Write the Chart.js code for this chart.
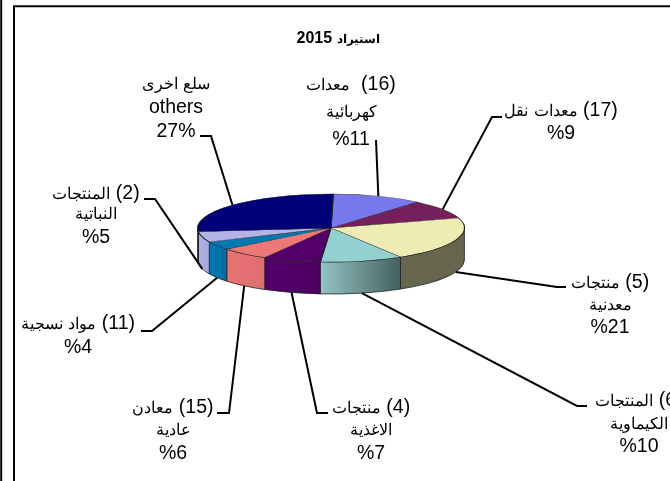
<!DOCTYPE html>
<html lang="ar">
<head>
    <meta charset="UTF-8">
    <title>استيراد 2015</title>
    <script src="https://cdn.jsdelivr.net/npm/chart.js"></script>
    <style>
        /* Arabic glyphs run wide in DejaVu, so only that range is scaled down */
        @font-face {
            font-family: "ArabicText";
            src: local("DejaVu Sans");
            unicode-range: U+0600-06FF;
            size-adjust: 80%;
        }
        @font-face {
            font-family: "ArabicTitle";
            src: local("DejaVu Sans Bold");
            font-weight: bold;
            unicode-range: U+0600-06FF;
            size-adjust: 78%;
        }
        html, body { margin: 0; padding: 0; background: #fff; overflow: hidden; }
        #wrap { width: 670px; height: 481px; }
    </style>
</head>
<body>
<div id="wrap"><canvas id="chart" width="670" height="481"></canvas></div>

<script>
    const chartTitle = "استيراد 2015";
    // text of each label, line by line, in slice order
    const categories = [
        ["(16)  معدات", "كهربائية"],
        ["(17) معدات نقل"],
        ["(5) منتجات", "معدنية"],
        ["(6) المنتجات", "الكيماوية"],
        ["(4) منتجات", "الاغذية"],
        ["(15) معادن", "عادية"],
        ["(11) مواد نسجية"],
        ["(2) المنتجات", "النباتية"],
        ["سلع اخرى", "others"]
    ];
    const shares = [11, 9, 21, 10, 7, 6, 4, 5, 27];
    const shareText = ["%11", "%9", "%21", "%10", "%7", "%6", "%4", "%5", "27%"];

    const topColors = ["#7777ee", "#751f5c", "#eeecb4", "#93d0d0", "#54006b", "#ee7777", "#0078b0", "#b3b3e8", "#000078"];
    const wallColorsLeft = ["#5a5ab0", "#561645", "#66664f", "#93c4c4", "#54006b", "#e87474", "#0078b0", "#b0b0e4", "#000060"];
    const wallColorsRight = ["#5a5ab0", "#561645", "#66664f", "#456060", "#4c0060", "#e06e6e", "#006fa4", "#a6a6da", "#000060"];

    // where the pie sits on the page
    const CX = 331, CY = 228, RY = 34, DEPTH = 32;

    // layout of the labels: centre x, baseline of each line, then elbow of the leader
    const labelX = [351, 561, 610, 639, 371, 173, 78, 96, 176];
    const labelY = [
        [90, 117, 145],
        [116, 139],
        [288, 310, 333],
        [406, 429, 452],
        [413, 435, 459],
        [413, 435, 459],
        [329, 353],
        [199, 219, 243],
        [89, 113, 137]
    ];
    const elbows = [
        [[376, 140]],
        [[492, 117], [502, 117]],
        [[557, 287], [566, 287]],
        [[577, 406], [587, 406]],
        [[317, 413], [328, 413]],
        [[229, 413], [217, 413]],
        [[152, 331], [141, 331]],
        [[155, 199], [144, 199]],
        [[211, 136], [200, 136]]
    ];
    const labelFont = '19.5px "ArabicText", "Liberation Sans", sans-serif';
    const titleFamily = '"ArabicTitle", "Liberation Sans", sans-serif';

    // pie is laid out as a circle, then squashed on to the tilted plane
    const tiltPlugin = {
        id: "tilt",
        beforeDraw(chart) {
            const ctx = chart.ctx;
            ctx.save();
            ctx.strokeStyle = "#000";
            ctx.lineWidth = 2;
            ctx.beginPath();
            ctx.moveTo(1.2, 0); ctx.lineTo(1.2, 481);
            ctx.moveTo(670, 6.3); ctx.lineTo(14, 6.3); ctx.lineTo(14, 481);
            ctx.stroke();
            ctx.restore();
        },
        beforeDatasetsDraw(chart) {
            const ctx = chart.ctx;
            const arcs = chart.getDatasetMeta(0).data;
            const rx = arcs[0].outerRadius;

            // side wall, only the front half of the rim shows
            arcs.forEach((arc, i) => {
                const a0 = Math.max(arc.startAngle, 0);
                const a1 = Math.min(arc.endAngle, Math.PI);
                if (a1 <= a0) return;
                const x0 = CX + rx * Math.cos(a0);
                const x1 = CX + rx * Math.cos(a1);
                const grad = ctx.createLinearGradient(x1, 0, x0, 0);
                grad.addColorStop(0, wallColorsLeft[i]);
                grad.addColorStop(1, wallColorsRight[i]);
                ctx.beginPath();
                ctx.ellipse(CX, CY, rx, RY, 0, a0, a1);
                ctx.ellipse(CX, CY + DEPTH, rx, RY, 0, a1, a0, true);
                ctx.closePath();
                ctx.fillStyle = grad;
                ctx.fill();
                ctx.strokeStyle = "#222";
                ctx.lineWidth = 0.8;
                ctx.stroke();
            });

            ctx.save();
            ctx.translate(CX, CY);
            ctx.scale(1, RY / rx);
            ctx.translate(-arcs[0].x, -arcs[0].y);
        },
        afterDatasetsDraw(chart) {
            const ctx = chart.ctx;
            ctx.restore();

            const arcs = chart.getDatasetMeta(0).data;
            const rx = arcs[0].outerRadius;
            ctx.save();
            ctx.fillStyle = "#000";
            ctx.textAlign = "center";
            ctx.textBaseline = "alphabetic";
            ctx.font = labelFont;

            arcs.forEach((arc, i) => {
                // leader starts on the rim at the middle of its slice
                const mid = (arc.startAngle + arc.endAngle) / 2;
                const front = Math.sin(mid) > 0;
                const sx = CX + rx * Math.cos(mid);
                const sy = CY + RY * Math.sin(mid) + (front ? DEPTH : 0);
                ctx.strokeStyle = "#000";
                ctx.lineWidth = 2;
                ctx.beginPath();
                ctx.moveTo(sx, sy);
                elbows[i].forEach(p => ctx.lineTo(p[0], p[1]));
                ctx.stroke();

                const lines = categories[i].concat(shareText[i]);
                lines.forEach((line, j) => {
                    ctx.direction = j === lines.length - 1 ? "ltr" : "rtl";
                    ctx.fillText(line, labelX[i], labelY[i][j]);
                });
            });
            ctx.restore();
        }
    };

    const chart = new Chart(document.getElementById("chart"), {
        type: "pie",
        data: {
            labels: categories.map(c => c.join(" ")),
            datasets: [{
                data: shares,
                backgroundColor: topColors,
                borderColor: "#222",
                borderWidth: 1.2,
                clip: false
            }]
        },
        options: {
            responsive: false,
            animation: false,
            rotation: 1,
            layout: { padding: { left: 204, right: 198, top: 31, bottom: 118 } },
            plugins: {
                legend: { display: false },
                tooltip: { enabled: false },
                title: {
                    display: true,
                    text: chartTitle,
                    color: "#000",
                    font: { family: titleFamily, size: 16, weight: "bold", lineHeight: 14.4 / 16 },
                    padding: { top: 0, bottom: 48.6 }
                }
            }
        },
        plugins: [tiltPlugin]
    });

    // local faces come in asynchronously, redraw once they are ready
    Promise.all([
        document.fonts.load(labelFont, "معدات"),
        document.fonts.load("bold 16px " + titleFamily, "استيراد")
    ]).then(() => chart.update());
</script>
</body>
</html>
